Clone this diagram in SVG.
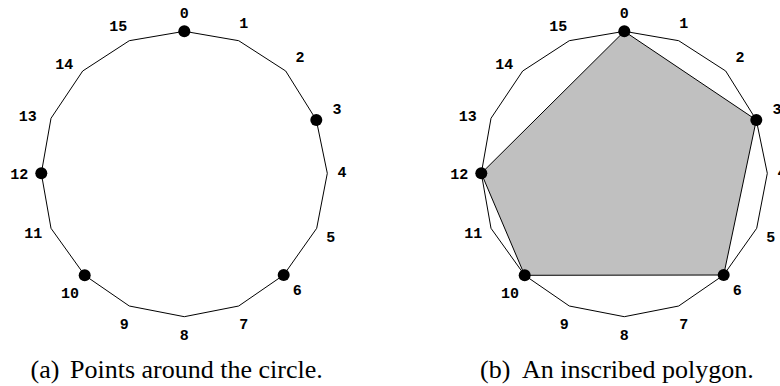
<svg xmlns="http://www.w3.org/2000/svg" width="780" height="386" viewBox="0 0 780 386">
<style>
.ring{fill:none;stroke:#000;stroke-width:1}
.poly{fill:#c0c0c0;stroke:#000;stroke-width:1}
.dot{fill:#000}
.lbl{font-family:"Liberation Mono","Courier New",monospace;font-weight:bold;font-size:15px;text-anchor:middle;fill:#000}
.cap{font-family:"Liberation Serif","Times New Roman",serif;font-size:26px;fill:#000}
</style>
<defs>
<polygon id="ring16" points="184.3,31.3 238.7,40.7 285.7,71 316.3,120 327.3,173.3 316.7,228.3 283.7,275 238.7,306 184.3,316.7 129.3,306 84.7,275.3 51,228.3 41.3,173.3 51,118.3 82.7,71 129.3,40.7"/>
<g id="labels">
<text x="184.3" y="18">0</text>
<text x="243.7" y="27.5">1</text>
<text x="300" y="61.5">2</text>
<text x="337" y="114">3</text>
<text x="342" y="176.5">4</text>
<text x="330.7" y="241.5">5</text>
<text x="297.3" y="295">6</text>
<text x="243.7" y="329">7</text>
<text x="184.3" y="340">8</text>
<text x="124.3" y="329">9</text>
<text x="70" y="298">10</text>
<text x="33.3" y="238">11</text>
<text x="19.3" y="178.5">12</text>
<text x="27.7" y="120.5">13</text>
<text x="64.3" y="69">14</text>
<text x="118.3" y="30.5">15</text>
</g>
</defs>
<g id="panel-a">
<use href="#ring16" class="ring"/>
<g class="lbl"><use href="#labels"/></g>
<g id="a-p0"><circle class="dot" cx="184.3" cy="31.3" r="6"/></g>
<g id="a-p3"><circle class="dot" cx="316.3" cy="120" r="6"/></g>
<g id="a-p6"><circle class="dot" cx="283.7" cy="275" r="6"/></g>
<g id="a-p10"><circle class="dot" cx="84.7" cy="275.3" r="6"/></g>
<g id="a-p12"><circle class="dot" cx="41.3" cy="173.3" r="6"/></g>
<text class="cap" y="378"><tspan x="30.5">(a)</tspan><tspan x="70">Points around the circle.</tspan></text>
</g>
<g id="panel-b">
<g transform="translate(440,0)">
<use href="#ring16" class="ring"/>
<g id="connectors"><polygon class="poly" points="184.3,31.3 316.3,120 283.7,275 84.7,275.3 41.3,173.3"/></g>
<g class="lbl"><use href="#labels"/></g>
<g id="b-p0"><circle class="dot" cx="184.3" cy="31.3" r="6"/></g>
<g id="b-p3"><circle class="dot" cx="316.3" cy="120" r="6"/></g>
<g id="b-p6"><circle class="dot" cx="283.7" cy="275" r="6"/></g>
<g id="b-p10"><circle class="dot" cx="84.7" cy="275.3" r="6"/></g>
<g id="b-p12"><circle class="dot" cx="41.3" cy="173.3" r="6"/></g>
</g>
<text class="cap" y="378"><tspan x="480">(b)</tspan><tspan x="522">An inscribed polygon.</tspan></text>
</g>
</svg>
